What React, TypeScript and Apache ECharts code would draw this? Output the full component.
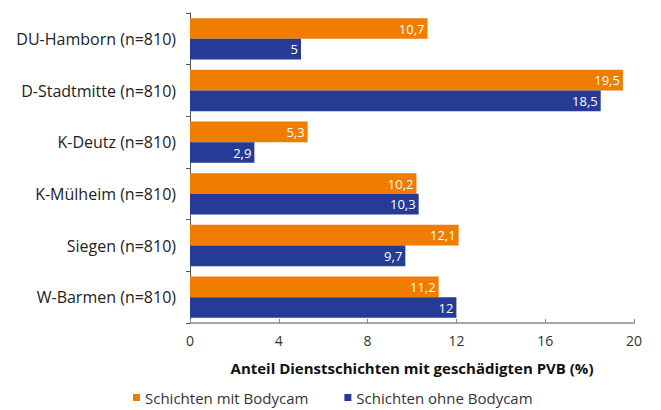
import React, { useEffect, useRef } from "react";
import * as echarts from "echarts";

const categories = [
  "DU-Hamborn (n=810)",
  "D-Stadtmitte (n=810)",
  "K-Deutz (n=810)",
  "K-Mülheim (n=810)",
  "Siegen (n=810)",
  "W-Barmen (n=810)",
];
const mitBodycam = [10.7, 19.5, 5.3, 10.2, 12.1, 11.2];
const ohneBodycam = [5, 18.5, 2.9, 10.3, 9.7, 12];
const seriesNames = ["Schichten mit Bodycam", "Schichten ohne Bodycam"];
const axisTitle = "Anteil Dienstschichten mit geschädigten PVB (%)";

const FONT = "'Open Sans', 'Noto Sans', sans-serif";

export default function App() {
  const ref = useRef<HTMLDivElement>(null);
  useEffect(() => {
    if (!ref.current) return;
    const chart = echarts.init(ref.current, null, { renderer: "svg" });
    const label = {
      show: true,
      position: "insideRight",
      color: "#fff",
      fontSize: 13,
      fontFamily: FONT,
      distance: 3,
      formatter: (p: any) => String(p.value).replace(".", ","),
    };
    chart.setOption({
      animation: false,
      textStyle: { fontFamily: FONT },
      grid: { left: 190, right: 27, top: 13, bottom: 87, containLabel: false },
      legend: {
        bottom: 0,
        left: 128,
        itemGap: 36,
        icon: "rect",
        itemWidth: 7,
        itemHeight: 7,
        textStyle: { fontSize: 15, color: "#333", fontFamily: FONT },
        data: seriesNames,
      },
      xAxis: {
        type: "value",
        min: 0,
        max: 20,
        interval: 4,
        splitLine: { show: false },
        axisLine: { show: true, lineStyle: { color: "#8a8a8a", width: 1.5 } },
        axisTick: { show: true, inside: true, length: 4, lineStyle: { color: "#8a8a8a" } },
        axisLabel: { fontSize: 14, color: "#333", margin: 10, fontFamily: FONT },
        name: axisTitle,
        nameLocation: "middle",
        nameGap: 37,
        nameTextStyle: { fontSize: 15, fontWeight: "bold", color: "#111", fontFamily: FONT },
      },
      yAxis: {
        type: "category",
        inverse: true,
        data: categories,
        axisLine: { show: true, lineStyle: { color: "#555", width: 1 } },
        axisTick: { show: true, length: 4, lineStyle: { color: "#555" } },
        axisLabel: { fontSize: 16, color: "#222", margin: 14, fontFamily: FONT },
      },
      series: [
        {
          name: seriesNames[0],
          type: "bar",
          data: mitBodycam,
          barGap: "0%",
          barCategoryGap: "20%",
          itemStyle: { color: "#F07D00" },
          label,
        },
        {
          name: seriesNames[1],
          type: "bar",
          data: ohneBodycam,
          barGap: "0%",
          barCategoryGap: "20%",
          itemStyle: { color: "#253B95" },
          label,
        },
      ],
    });
    return () => chart.dispose();
  }, []);
  return (
    <div
      ref={ref}
      style={{ position: "fixed", left: 0, top: 0, width: 661, height: 410, background: "#fff" }}
    />
  );
}
